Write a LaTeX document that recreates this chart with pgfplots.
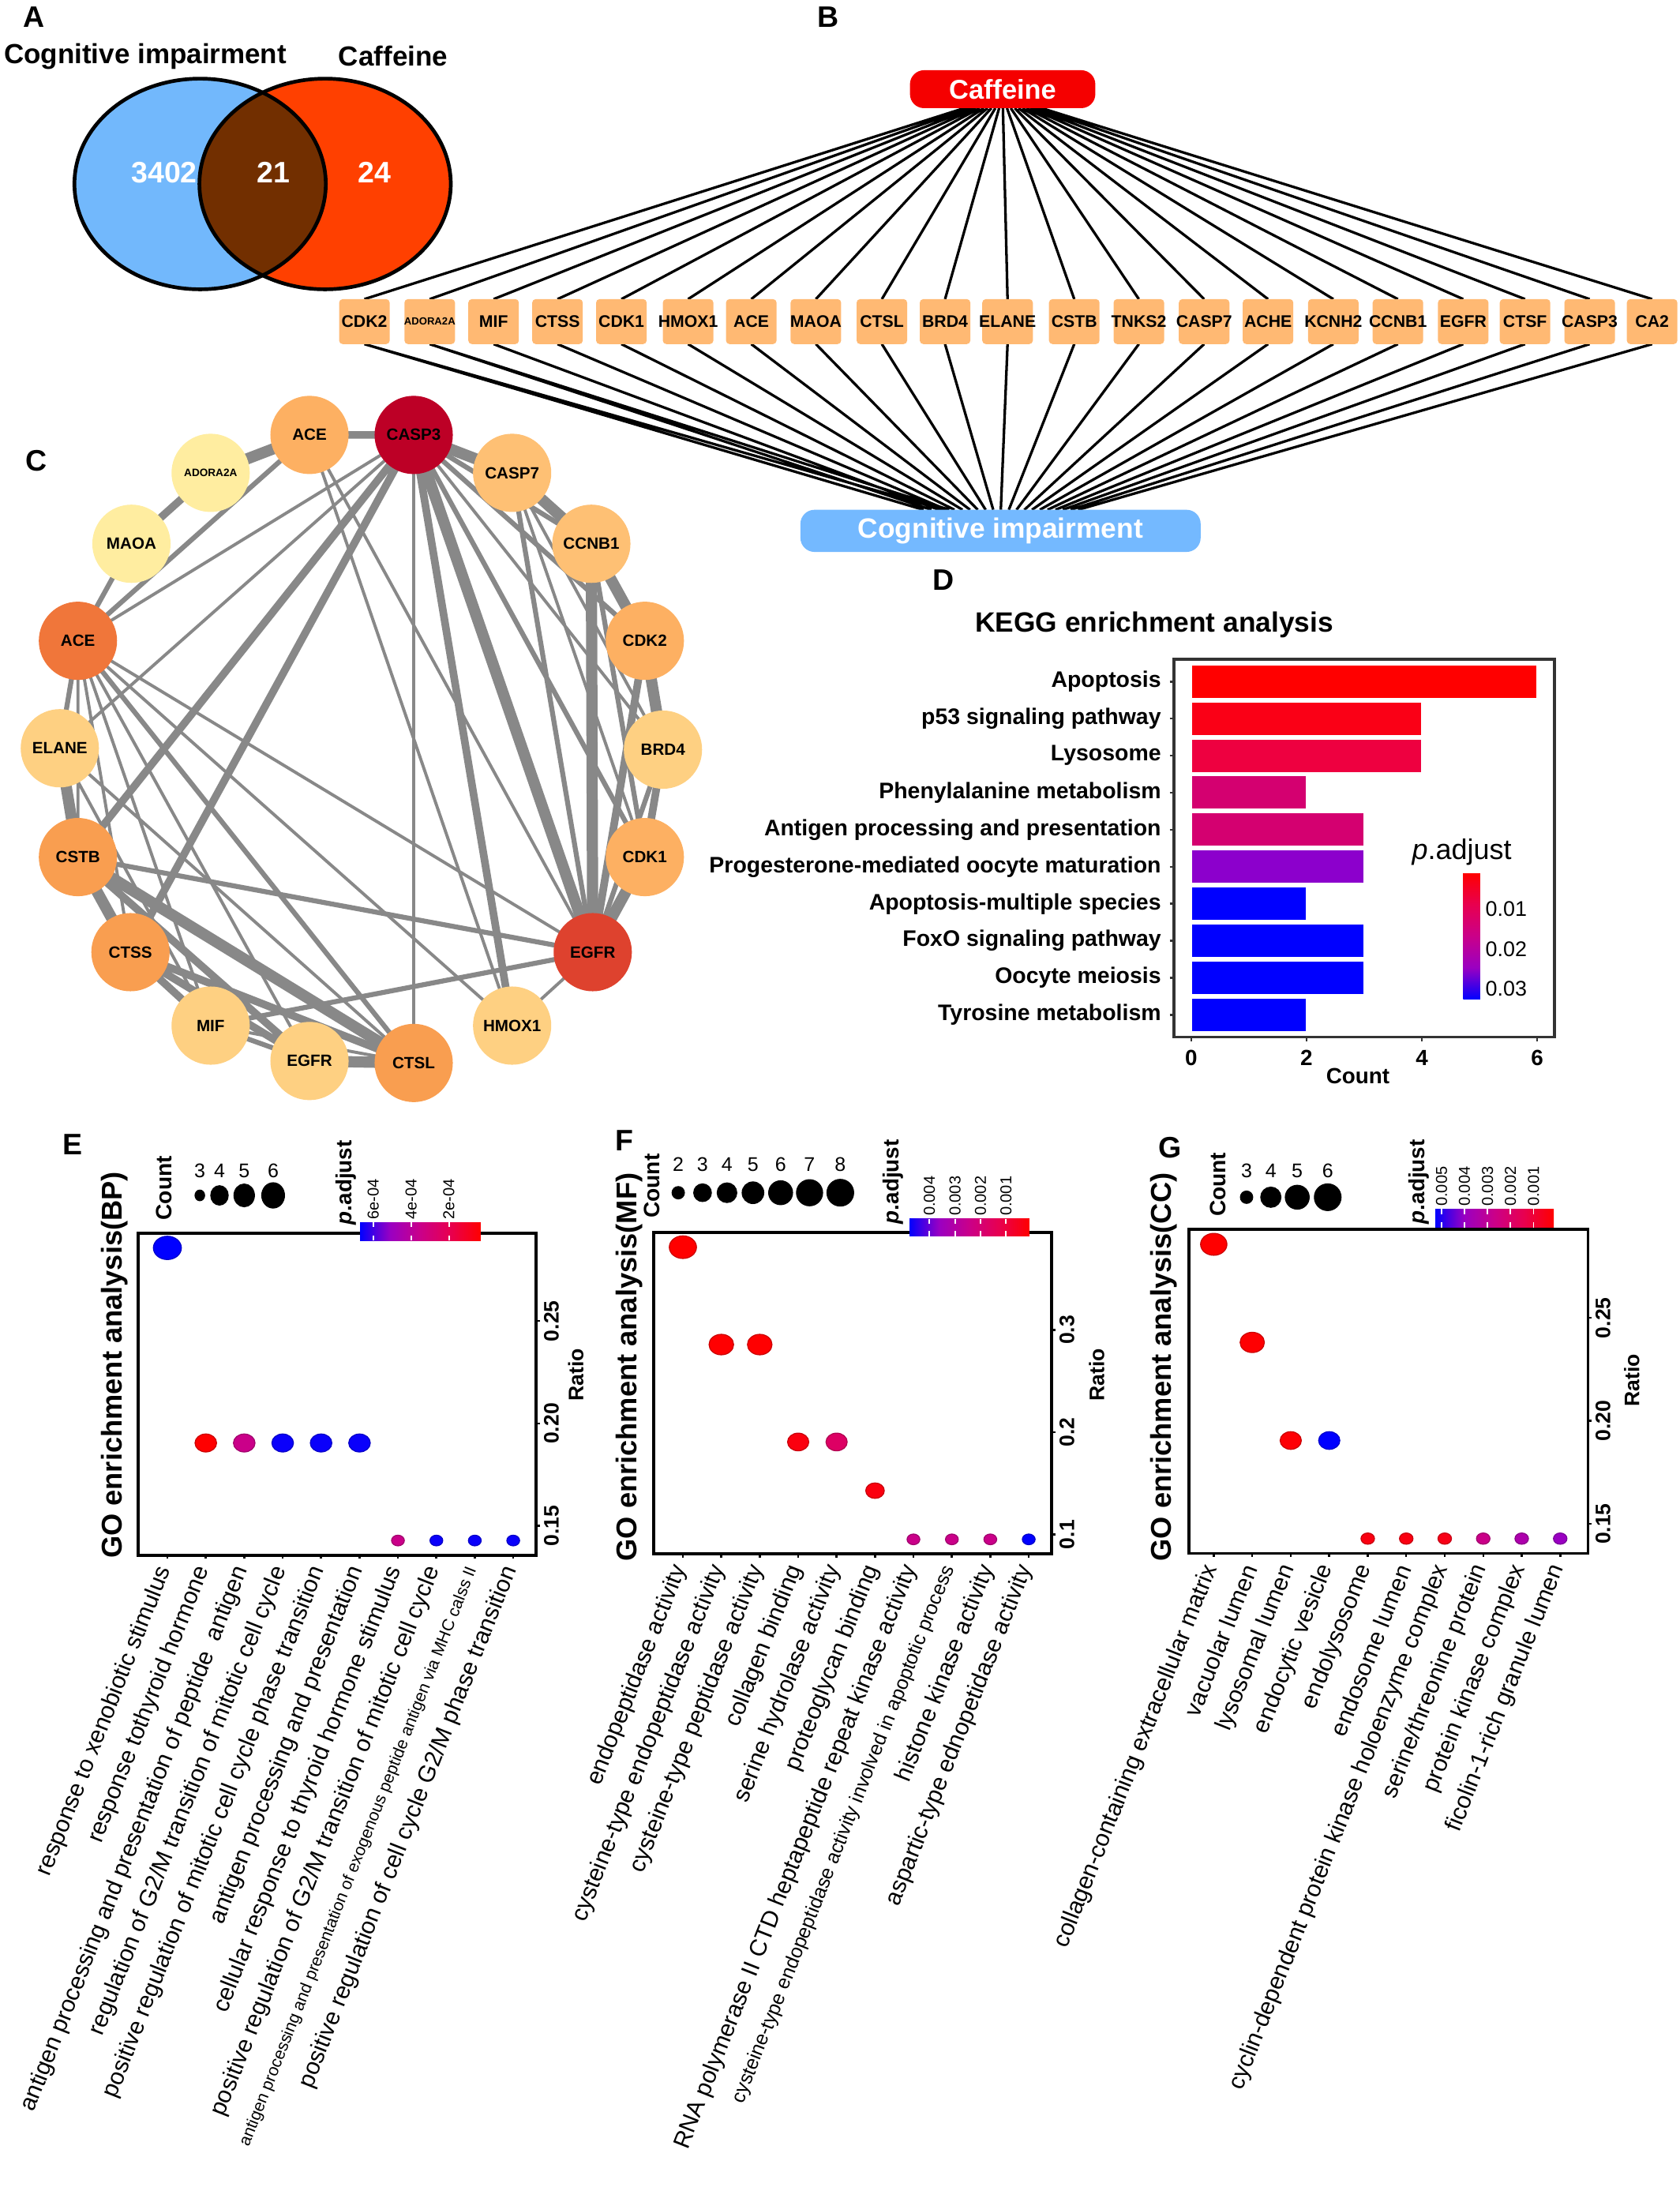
\documentclass[border=0pt]{standalone}
\usepackage{fontspec}
\setmainfont{Liberation Sans}
\usepackage{pgfplots}
\pgfplotsset{compat=1.18}
\newcommand\fs[1]{\fontsize{#1}{#1}\selectfont}
\definecolor{vblue}{RGB}{114,184,252}
\definecolor{vred}{RGB}{255,64,0}
\definecolor{vbrown}{RGB}{114,47,0}
\definecolor{caff}{RGB}{245,0,0}
\definecolor{cogbox}{RGB}{116,185,255}
\definecolor{gene}{RGB}{255,185,115}
\definecolor{cedge}{RGB}{136,136,136}
\definecolor{c1}{RGB}{189,0,38}
\definecolor{c2}{RGB}{222,66,46}
\definecolor{c3}{RGB}{240,118,58}
\definecolor{c4}{RGB}{249,158,80}
\definecolor{c5}{RGB}{253,176,98}
\definecolor{c6}{RGB}{254,192,116}
\definecolor{c7}{RGB}{254,208,130}
\definecolor{c8}{RGB}{255,237,160}
\definecolor{d1}{RGB}{255,0,0}
\definecolor{d2}{RGB}{250,0,22}
\definecolor{d3}{RGB}{238,0,64}
\definecolor{d4}{RGB}{212,0,112}
\definecolor{d6}{RGB}{140,0,204}
\definecolor{d7}{RGB}{0,0,255}
\pgfplotsset{
  colormap={ggrb}{rgb255=(255,0,0) rgb255=(232,0,79) rgb255=(202,0,137) rgb255=(154,0,194) rgb255=(0,0,255)},
  gostyle/.style={scale only axis, tick align=outside, xtick pos=left, ytick pos=right, yticklabel pos=right, major tick length=0.5mm,
    axis line style={line width=1.2pt}, tick style={black, line width=0.8pt},
    xticklabel style={font=\fs{9.6}, xshift=-0.3mm, yshift=-1.2mm, rotate=68.5, anchor=east, inner sep=0pt},
    yticklabel style={font=\bfseries\fs{8.5}, rotate=90, anchor=north, inner sep=1.5pt},
    colormap name=ggrb, clip=false},
  bub/.style={scatter, only marks, mark=*, point meta=explicit, mark options={xscale=1.2},
    visualization depends on={\thisrow{r}\as\rr},
    scatter/@pre marker code/.append style={/tikz/mark size=\rr pt}},
  cbh/.style={at={(parent axis.north west)}, anchor=north west, scale only axis, x dir=reverse,
    scaled x ticks=false, xtick pos=both, xticklabel pos=upper, tick align=inside, major tick length=0.7mm,
    tick style={white, line width=0.6pt}, axis line style={draw=none},
    xticklabel style={font=\fs{6.4}, rotate=90, anchor=west, inner sep=1pt}},
  cnode/.style={only marks, mark=*, mark size=15.65pt, point meta=explicit symbolic, nodes near coords,
    every node near coord/.append style={font=\bfseries\fs{6.6}, text=black, inner sep=0pt, anchor=center}},
}
\begin{document}
\begin{tikzpicture}
\path[use as bounding box] (0,0) rectangle (239.2mm,-313.6mm);
\begin{axis}[name=bg, at={(0,0)}, anchor=north west, scale only axis, width=239.2mm, height=313.6mm,
  xmin=0, xmax=1196, ymin=0, ymax=1568, y dir=reverse, hide axis, clip=false, unbounded coords=jump]
% ---------------- A: Venn
\node[font=\bfseries\fs{12}] at (24,12) {A};
\node[font=\bfseries\fs{11.2}] at (103.5,40) {Cognitive impairment};
\node[font=\bfseries\fs{11.2}] at (280,40) {Caffeine};
\fill[vblue] (142.5,131) ellipse [x radius=17.9mm, y radius=15mm];
\fill[vred] (231.5,131) ellipse [x radius=17.9mm, y radius=15mm];
\fill[vbrown] (187,65.93) arc [start angle=60.2, end angle=-60.2, x radius=17.9mm, y radius=15mm]
   arc [start angle=240.2, end angle=119.8, x radius=17.9mm, y radius=15mm] -- cycle;
\draw[line width=1.5pt] (142.5,131) ellipse [x radius=17.9mm, y radius=15mm];
\draw[line width=1.5pt] (231.5,131) ellipse [x radius=17.9mm, y radius=15mm];
\node[font=\bfseries\fs{12}, white] at (117,123) {3402};
\node[font=\bfseries\fs{12}, white] at (195,123) {21};
\node[font=\bfseries\fs{12}, white] at (266.5,123) {24};
% ---------------- B: network
\node[font=\bfseries\fs{12}] at (590,12) {B};
\addplot[black, line width=1.05pt] coordinates {
(686.7,77)(259.5,213)(0,nan)(689.5,77)(306,213)(0,nan)(692.3,77)(351.5,213)(0,nan)(695,77)(397,213)(0,nan)
(697.7,77)(442.5,213)(0,nan)(700.6,77)(490,213)(0,nan)(703.3,77)(535,213)(0,nan)(706,77)(581,213)(0,nan)
(708.8,77)(628,213)(0,nan)(711.5,77)(673,213)(0,nan)(714.2,77)(717.5,213)(0,nan)(717.1,77)(765,213)(0,nan)
(719.8,77)(811,213)(0,nan)(722.6,77)(857.5,213)(0,nan)(725.3,77)(903,213)(0,nan)(728.1,77)(949.5,213)(0,nan)
(730.9,77)(995.5,213)(0,nan)(733.7,77)(1042,213)(0,nan)(736.3,77)(1086,213)(0,nan)(739.1,77)(1132,213)(0,nan)
(741.75,77)(1176.5,213)};
\addplot[black, line width=1.05pt] coordinates {
(259.5,245)(657.7,363)(0,nan)(306,245)(663.3,363)(0,nan)(351.5,245)(668.7,363)(0,nan)(397,245)(674.2,363)(0,nan)
(442.5,245)(679.7,363)(0,nan)(490,245)(685.4,363)(0,nan)(535,245)(690.8,363)(0,nan)(581,245)(696.3,363)(0,nan)
(628,245)(701.9,363)(0,nan)(673,245)(707.3,363)(0,nan)(717.5,245)(712.7,363)(0,nan)(765,245)(718.4,363)(0,nan)
(811,245)(723.9,363)(0,nan)(857.5,245)(729.5,363)(0,nan)(903,245)(734.9,363)(0,nan)(949.5,245)(740.5,363)(0,nan)
(995.5,245)(746,363)(0,nan)(1042,245)(751.6,363)(0,nan)(1086,245)(756.9,363)(0,nan)(1132,245)(762.4,363)(0,nan)
(1176.5,245)(767.7,363)(0,nan)(259.5,245)(672,363)(0,nan)(306,245)(676,363)};
\fill[caff, rounded corners=2mm] (648,50) rectangle (780,77);
\node[font=\bfseries\fs{11}, white] at (714,63.5) {Caffeine};
\fill[cogbox, rounded corners=2mm] (570,363) rectangle (855,393);
\node[font=\bfseries\fs{11.3}, white] at (712.5,378) {Cognitive impairment};
\fill[gene, rounded corners=0.5mm] (241.5,213) rectangle (277.5,245);
\fill[gene, rounded corners=0.5mm] (288,213) rectangle (324,245);
\fill[gene, rounded corners=0.5mm] (333.5,213) rectangle (369.5,245);
\fill[gene, rounded corners=0.5mm] (379,213) rectangle (415,245);
\fill[gene, rounded corners=0.5mm] (424.5,213) rectangle (460.5,245);
\fill[gene, rounded corners=0.5mm] (472,213) rectangle (508,245);
\fill[gene, rounded corners=0.5mm] (517,213) rectangle (553,245);
\fill[gene, rounded corners=0.5mm] (563,213) rectangle (599,245);
\fill[gene, rounded corners=0.5mm] (610,213) rectangle (646,245);
\fill[gene, rounded corners=0.5mm] (655,213) rectangle (691,245);
\fill[gene, rounded corners=0.5mm] (699.5,213) rectangle (735.5,245);
\fill[gene, rounded corners=0.5mm] (747,213) rectangle (783,245);
\fill[gene, rounded corners=0.5mm] (793,213) rectangle (829,245);
\fill[gene, rounded corners=0.5mm] (839.5,213) rectangle (875.5,245);
\fill[gene, rounded corners=0.5mm] (885,213) rectangle (921,245);
\fill[gene, rounded corners=0.5mm] (931.5,213) rectangle (967.5,245);
\fill[gene, rounded corners=0.5mm] (977.5,213) rectangle (1013.5,245);
\fill[gene, rounded corners=0.5mm] (1024,213) rectangle (1060,245);
\fill[gene, rounded corners=0.5mm] (1068,213) rectangle (1104,245);
\fill[gene, rounded corners=0.5mm] (1114,213) rectangle (1150,245);
\fill[gene, rounded corners=0.5mm] (1158.5,213) rectangle (1194.5,245);
\begin{scope}[every node/.style={font=\bfseries\fs{6.8}, inner sep=0pt}]
\node at (259.5,229) {CDK2};
\node[font=\bfseries\fs{4.2}] at (306,229) {ADORA2A};
\node at (351.5,229) {MIF};
\node at (397,229) {CTSS};
\node at (442.5,229) {CDK1};
\node at (490,229) {HMOX1};
\node at (535,229) {ACE};
\node at (581,229) {MAOA};
\node at (628,229) {CTSL};
\node at (673,229) {BRD4};
\node at (717.5,229) {ELANE};
\node at (765,229) {CSTB};
\node at (811,229) {TNKS2};
\node at (857.5,229) {CASP7};
\node at (903,229) {ACHE};
\node at (949.5,229) {KCNH2};
\node at (995.5,229) {CCNB1};
\node at (1042,229) {EGFR};
\node at (1086,229) {CTSF};
\node at (1132,229) {CASP3};
\node at (1176.5,229) {CA2};
\end{scope}
% ---------------- C: PPI ring
\node[font=\bfseries\fs{12}] at (26,328) {C};
\addplot[cedge, line width=4.55pt] coordinates {
(220.4,309.7)(150,336.7)(0,nan)(42.6,532.8)(55.5,610.3)(0,nan)(55.5,610.3)(92.9,678)(0,nan)
(220.4,755.5)(294.6,756.9)(0,nan)(422.1,678)(459.2,610.3)(0,nan)(472.1,533.8)(459.2,456.3)(0,nan)
(421.1,387.2)(364.7,336.7)(0,nan)(364.7,336.7)(294.6,309.7)(0,nan)(294.6,309.7)(422.1,678)(0,nan)
(55.5,610.3)(294.6,756.9)(0,nan)(422.1,678)(421.1,387.2)(0,nan)(459.2,456.3)(421.1,387.2)};
\addplot[cedge, line width=3.1pt] coordinates {
(150,336.7)(93.6,387.2)(0,nan)(92.9,678)(150,730.3)(0,nan)(459.2,610.3)(472.1,533.8)(0,nan)
(294.6,309.7)(364.7,730.3)(0,nan)(294.6,309.7)(55.5,610.3)(0,nan)(92.9,678)(294.6,756.9)(0,nan)
(92.9,678)(220.4,755.5)(0,nan)(55.5,610.3)(220.4,755.5)(0,nan)(422.1,678)(459.2,456.3)(0,nan)
(220.4,309.7)(294.6,309.7)(0,nan)(294.6,309.7)(92.9,678)};
\addplot[cedge, line width=2pt] coordinates {
(93.6,387.2)(55.5,456.3)(0,nan)(55.5,456.3)(42.6,532.8)(0,nan)(150,730.3)(220.4,755.5)(0,nan)
(294.6,309.7)(421.1,387.2)(0,nan)(294.6,309.7)(459.2,456.3)(0,nan)(294.6,309.7)(459.2,610.3)(0,nan)
(220.4,309.7)(55.5,456.3)(0,nan)(55.5,456.3)(294.6,756.9)(0,nan)(55.5,610.3)(422.1,678)(0,nan)
(422.1,678)(150,730.3)(0,nan)(422.1,678)(364.7,336.7)(0,nan)(422.1,678)(472.1,533.8)(0,nan)
(421.1,387.2)(459.2,610.3)};
\addplot[cedge, line width=1.25pt] coordinates {
(364.7,730.3)(422.1,678)(0,nan)(294.6,309.7)(294.6,756.9)(0,nan)(294.6,309.7)(472.1,533.8)(0,nan)
(294.6,309.7)(42.6,532.8)(0,nan)(294.6,309.7)(55.5,456.3)(0,nan)(220.4,309.7)(422.1,678)(0,nan)
(220.4,309.7)(364.7,730.3)(0,nan)(55.5,456.3)(422.1,678)(0,nan)(55.5,456.3)(364.7,730.3)(0,nan)
(55.5,456.3)(220.4,755.5)(0,nan)(55.5,456.3)(150,730.3)(0,nan)(55.5,456.3)(92.9,678)(0,nan)
(55.5,456.3)(55.5,610.3)(0,nan)(42.6,532.8)(294.6,756.9)(0,nan)(42.6,532.8)(150,730.3)(0,nan)
(364.7,336.7)(459.2,610.3)(0,nan)(364.7,336.7)(472.1,533.8)(0,nan)(150,730.3)(294.6,756.9)};
\addplot[cnode, c1] coordinates {(294.6,309.7) [CASP3]};
\addplot[cnode, c2] coordinates {(422.1,678) [EGFR]};
\addplot[cnode, c3] coordinates {(55.5,456.3) [ACE]};
\addplot[cnode, c4] coordinates {(55.5,610.3) [CSTB] (92.9,678) [CTSS] (294.6,756.9) [CTSL]};
\addplot[cnode, c5] coordinates {(220.4,309.7) [ACE] (459.2,456.3) [CDK2] (459.2,610.3) [CDK1]};
\addplot[cnode, c6] coordinates {(364.7,336.7) [CASP7] (421.1,387.2) [CCNB1]};
\addplot[cnode, c7] coordinates {(42.6,532.8) [ELANE] (472.1,533.8) [BRD4] (220.4,755.5) [EGFR] (150,730.3) [MIF] (364.7,730.3) [HMOX1]};
\addplot[cnode, c8] coordinates {(93.6,387.2) [MAOA]};
\addplot[cnode, c8, every node near coord/.append style={font=\bfseries\fs{4.35}}] coordinates {(150,336.7) [ADORA2A]};
% ---------------- D texts
\node[font=\bfseries\fs{12}] at (672,413) {D};
\node[font=\bfseries\fs{11.3}] at (822,445) {KEGG enrichment analysis};
\node[font=\bfseries\fs{8.9}] at (967,766) {Count};
\node[font=\fs{11.5}] at (1041,607) {\textit{p}.adjust};
\coordinate (Dsw) at (836,738.5);
\coordinate (Dcb) at (1027,621.4);
% ---------------- E/F/G texts
\node[font=\bfseries\fs{12}] at (52,815) {E};
\node[font=\bfseries\fs{12}] at (444.5,812) {F};
\node[font=\bfseries\fs{12}] at (833.5,817) {G};
\node[rotate=90, anchor=west, inner sep=0pt, font=\bfseries\fs{11.6}] at (81.5,1110) {GO enrichment analysis(BP)};
\node[rotate=90, anchor=west, inner sep=0pt, font=\bfseries\fs{11.6}] at (448,1112) {GO enrichment analysis(MF)};
\node[rotate=90, anchor=west, inner sep=0pt, font=\bfseries\fs{11.6}] at (829,1112) {GO enrichment analysis(CC)};
\node[rotate=90, font=\bfseries\fs{8.5}] at (410,979) {Ratio};
\node[rotate=90, font=\bfseries\fs{8.5}] at (781,979) {Ratio};
\node[rotate=90, font=\bfseries\fs{8.5}] at (1162,983) {Ratio};
% count legends
\node[rotate=90, font=\bfseries\fs{9}] at (117.1,846) {Count};
\node[rotate=90, font=\bfseries\fs{9}] at (464.5,844.5) {Count};
\node[rotate=90, font=\bfseries\fs{9}] at (867.6,843.5) {Count};
\node[rotate=90, font=\bfseries\fs{8.9}] at (246.6,842) {\textit{p}.adjust};
\node[rotate=90, font=\bfseries\fs{8.9}] at (636.1,841.5) {\textit{p}.adjust};
\node[rotate=90, font=\bfseries\fs{8.9}] at (1010.6,841.5) {\textit{p}.adjust};
\begin{scope}[every node/.style={font=\fs{8}}]
\node at (142.3,833.8) {3}; \node at (156.3,833.8) {4}; \node at (173.9,833.8) {5}; \node at (194.5,833.8) {6};
\node at (483,829) {2}; \node at (500.3,829) {3}; \node at (517.7,829) {4}; \node at (536.2,829) {5};
\node at (555.9,829) {6}; \node at (576.5,829) {7}; \node at (598.4,829) {8};
\node at (887.7,833.8) {3}; \node at (905,833.8) {4}; \node at (923.8,833.8) {5}; \node at (945.5,833.8) {6};
\end{scope}
\addplot[only marks, mark=*, black, mark size=2.16pt, mark options={xscale=0.9}] coordinates {(142.3,851.2)};
\addplot[only marks, mark=*, black, mark size=3.93pt, mark options={xscale=0.9}] coordinates {(156.3,851.2)};
\addplot[only marks, mark=*, black, mark size=4.61pt, mark options={xscale=0.9}] coordinates {(173.9,851.2)};
\addplot[only marks, mark=*, black, mark size=5.12pt, mark options={xscale=0.9}] coordinates {(194.5,851.2)};
\addplot[only marks, mark=*, black, mark size=2.5pt] coordinates {(483,849.3)};
\addplot[only marks, mark=*, black, mark size=3.58pt] coordinates {(500.3,849.3)};
\addplot[only marks, mark=*, black, mark size=3.98pt] coordinates {(517.7,849.3)};
\addplot[only marks, mark=*, black, mark size=4.38pt] coordinates {(536.2,849.3)};
\addplot[only marks, mark=*, black, mark size=4.84pt] coordinates {(555.9,849.3)};
\addplot[only marks, mark=*, black, mark size=5.29pt] coordinates {(576.5,849.3)};
\addplot[only marks, mark=*, black, mark size=5.41pt] coordinates {(598.4,849.3)};
\addplot[only marks, mark=*, black, mark size=2.5pt] coordinates {(887.7,852.5)};
\addplot[only marks, mark=*, black, mark size=4.1pt] coordinates {(905,852.5)};
\addplot[only marks, mark=*, black, mark size=4.84pt] coordinates {(923.8,852.5)};
\addplot[only marks, mark=*, black, mark size=5.41pt] coordinates {(945.5,852.5)};
\coordinate (Esw) at (98.4,1107.4);
\coordinate (Fsw) at (465.5,1106.5);
\coordinate (Gsw) at (846.8,1106.1);
\coordinate (Ecb) at (256.3,855.3);
\coordinate (Fcb) at (647.2,852.8);
\coordinate (Gcb) at (1021.6,846);
\end{axis}
% ---------------- D: KEGG bars
\begin{axis}[at={(Dsw)}, anchor=south west, scale only axis, width=54.2mm, height=53.8mm,
  xmin=-0.3, xmax=6.3, ymin=0.4, ymax=10.6, y dir=reverse,
  xtick={0,2,4,6}, xticklabels={0,2,4,6},
  ytick={1,2,3,4,5,6,7,8,9,10},
  yticklabels={Apoptosis,p53 signaling pathway,Lysosome,Phenylalanine metabolism,Antigen processing and presentation,Progesterone-mediated oocyte maturation,Apoptosis-multiple species,FoxO signaling pathway,Oocyte meiosis,Tyrosine metabolism},
  tick align=outside, xtick pos=left, ytick pos=left, major tick length=0.6mm,
  axis line style={draw=black!80, line width=1.1pt},
  tick style={black!80, line width=0.8pt},
  yticklabel style={font=\bfseries\fs{9.1}},
  xticklabel style={font=\bfseries\fs{8.9}},
  clip=false]
\addplot[xbar, bar width=0.9, bar shift=0pt, fill=d1, draw=white, line width=0.4pt] coordinates {(6,1)};
\addplot[xbar, bar width=0.9, bar shift=0pt, fill=d2, draw=white, line width=0.4pt] coordinates {(4,2)};
\addplot[xbar, bar width=0.9, bar shift=0pt, fill=d3, draw=white, line width=0.4pt] coordinates {(4,3)};
\addplot[xbar, bar width=0.9, bar shift=0pt, fill=d4, draw=white, line width=0.4pt] coordinates {(2,4)};
\addplot[xbar, bar width=0.9, bar shift=0pt, fill=d4, draw=white, line width=0.4pt] coordinates {(3,5)};
\addplot[xbar, bar width=0.9, bar shift=0pt, fill=d6, draw=white, line width=0.4pt] coordinates {(3,6)};
\addplot[xbar, bar width=0.9, bar shift=0pt, fill=d7, draw=white, line width=0.4pt] coordinates {(2,7)};
\addplot[xbar, bar width=0.9, bar shift=0pt, fill=d7, draw=white, line width=0.4pt] coordinates {(3,8)};
\addplot[xbar, bar width=0.9, bar shift=0pt, fill=d7, draw=white, line width=0.4pt] coordinates {(3,9)};
\addplot[xbar, bar width=0.9, bar shift=0pt, fill=d7, draw=white, line width=0.4pt] coordinates {(2,10)};
\end{axis}
\begin{axis}[at={(Dcb)}, anchor=north west, hide axis, scale only axis, width=0pt, height=0pt,
  colormap name=ggrb, point meta min=0.00077, point meta max=0.0327,
  colorbar, colorbar style={at={(parent axis.north west)}, anchor=north west, scale only axis, width=2.4mm, height=18.06mm,
    y dir=reverse, scaled y ticks=false, ytick={0.01,0.02,0.03}, yticklabels={0.01,0.02,0.03},
    yticklabel style={font=\fs{8.6}, inner sep=2pt}, ytick style={draw=none}, axis line style={draw=none}}]
\addplot[draw=none] coordinates {(0,0)};
\end{axis}
% ---------------- E: BP
\begin{axis}[at={(Esw)}, anchor=south west, gostyle, width=56.7mm, height=45.86mm,
  xmin=0.24, xmax=10.6, ymin=0.1357, ymax=0.2929,
  point meta min=0.000032, point meta max=0.00067,
  xtick={1,2,3,4,5,6,7,8,9,10},
  xticklabels={{response to xenobiotic stimulus},{response tothyroid hormone},{antigen processing and presentation of peptide\ \ antigen},{regulation of G2/M transition of mitotic cell cycle},{positive regulation of mitotic cell cycle phase transition},{antigen processing and presentation},{cellular response to thyroid hormone stimulus},{positive regulation of G2/M transition of mitotic cell cycle},{\fs{6.8}antigen processing and presentation of exogenous peptide antigen via MHC calss II},{positive regulation of cell cycle G2/M phase transition}},
  ytick={0.15,0.2,0.25}, yticklabels={0.15,0.20,0.25}]
\addplot[bub] table[x=x, y=y, meta=p] {
x y p r
1 0.285714 0.00067 4.72
2 0.190476 0.000032 3.64
3 0.190476 0.00035 3.64
4 0.190476 0.00066 3.64
5 0.190476 0.00066 3.64
6 0.190476 0.00066 3.64
7 0.142857 0.00035 2.16
8 0.142857 0.00066 2.16
9 0.142857 0.00066 2.16
10 0.142857 0.00066 2.16
};
\end{axis}
\begin{axis}[at={(Ecb)}, anchor=north west, hide axis, scale only axis, width=0pt, height=0pt,
  colormap name=ggrb, point meta min=0.000032, point meta max=0.00067,
  colorbar horizontal, colorbar style={cbh, width=17.2mm, height=2.62mm,
    xtick={0.0006,0.0004,0.0002}, xticklabels={6e-04,4e-04,2e-04}}]
\addplot[draw=none] coordinates {(0,0)};
\end{axis}
% ---------------- F: MF
\begin{axis}[at={(Fsw)}, anchor=south west, gostyle, width=56.7mm, height=45.76mm,
  xmin=0.24, xmax=10.6, ymin=0.0810, ymax=0.3952,
  point meta min=0.00008, point meta max=0.00481,
  xtick={1,2,3,4,5,6,7,8,9,10},
  xticklabels={{endopeptidase activity},{cysteine-type endopeptidase activity},{cysteine-type peptidase activity},{collagen binding},{serine hydrolase activity},{proteoglycan binding},{RNA polymerase II CTD heptapeptide repeat kinase activity},{\fs{8}cysteine-type endopeptidase activity involved in apoptotic process},{histone kinase activity},{aspartic-type ednopetidase activity}},
  ytick={0.1,0.2,0.3}, yticklabels={0.1,0.2,0.3}]
\addplot[bub] table[x=x, y=y, meta=p] {
x y p r
1 0.380952 0.00008 4.58
2 0.285714 0.0001 4.15
3 0.285714 0.0001 4.15
4 0.190476 0.0003 3.58
5 0.190476 0.0017 3.58
6 0.142857 0.0003 3.13
7 0.095238 0.00245 2.16
8 0.095238 0.00245 2.16
9 0.095238 0.00245 2.16
10 0.095238 0.00481 2.16
};
\end{axis}
\begin{axis}[at={(Fcb)}, anchor=north west, hide axis, scale only axis, width=0pt, height=0pt,
  colormap name=ggrb, point meta min=0.00008, point meta max=0.00481,
  colorbar horizontal, colorbar style={cbh, width=17.18mm, height=2.48mm,
    xtick={0.004,0.003,0.002,0.001}, xticklabels={0.004,0.003,0.002,0.001}}]
\addplot[draw=none] coordinates {(0,0)};
\end{axis}
% ---------------- G: CC
\begin{axis}[at={(Gsw)}, anchor=south west, gostyle, width=56.8mm, height=46.12mm,
  xmin=0.36, xmax=10.72, ymin=0.1357, ymax=0.2929,
  point meta min=0.00012, point meta max=0.0053,
  xtick={1,2,3,4,5,6,7,8,9,10},
  xticklabels={{collagen-containing extracellular matrix},{vacuolar lumen},{lysosomal lumen},{endocytic vesicle},{endolysosome},{endosome lumen},{cyclin-dependent protein kinase holoenzyme complex},{serine/threonine protein},{protein kinase complex},{ficolin-1-rich granule lumen}},
  ytick={0.15,0.2,0.25}, yticklabels={0.15,0.20,0.25}]
\addplot[bub] table[x=x, y=y, meta=p] {
x y p r
1 0.285714 0.00012 4.44
2 0.238095 0.00015 4.1
3 0.190476 0.0002 3.58
4 0.190476 0.0053 3.58
5 0.142857 0.0004 2.28
6 0.142857 0.0004 2.28
7 0.142857 0.0005 2.28
8 0.142857 0.0027 2.28
9 0.142857 0.0035 2.28
10 0.142857 0.004 2.28
};
\end{axis}
\begin{axis}[at={(Gcb)}, anchor=north west, hide axis, scale only axis, width=0pt, height=0pt,
  colormap name=ggrb, point meta min=0.00012, point meta max=0.0053,
  colorbar horizontal, colorbar style={cbh, width=16.98mm, height=2.6mm,
    xtick={0.005,0.004,0.003,0.002,0.001}, xticklabels={0.005,0.004,0.003,0.002,0.001}}]
\addplot[draw=none] coordinates {(0,0)};
\end{axis}
\end{tikzpicture}
\end{document}
